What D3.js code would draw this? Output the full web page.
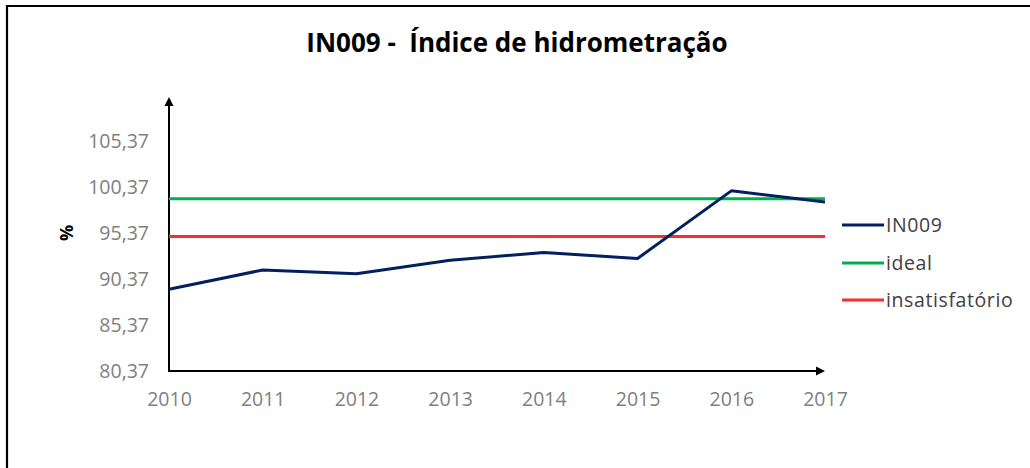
<!DOCTYPE html>
<html><head><meta charset="utf-8">
<script src="https://cdn.jsdelivr.net/npm/d3@7"></script>
<style>
body{margin:0;background:#fff;}
svg{display:block;font-family:"Open Sans",sans-serif;}
</style></head><body>
<svg id="c" width="1030" height="468"></svg>
<script>
const years = [2010, 2011, 2012, 2013, 2014, 2015, 2016, 2017];
const in009 = [89.25, 91.35, 90.95, 92.4, 93.25, 92.6, 99.95, 98.75];
const ideal = [99.1, 99.1, 99.1, 99.1, 99.1, 99.1, 99.1, 99.1];
const insatisfatorio = [95.0, 95.0, 95.0, 95.0, 95.0, 95.0, 95.0, 95.0];
const yTicks = [80.37, 85.37, 90.37, 95.37, 100.37, 105.37];
const seriesNames = ["IN009", "ideal", "insatisfatório"];
const colors = ["#002060", "#00b050", "#ff2a2a"];

const svg = d3.select("#c");
// border (left + top)
svg.append("path").attr("d","M7,468 V6 H1030").attr("fill","none").attr("stroke","#000").attr("stroke-width",2.2);

svg.append("text").attr("x",517).attr("y",52).attr("text-anchor","middle")
  .attr("font-size",26).attr("font-weight","bold").attr("fill","#000")
  .attr("xml:space","preserve").text("IN009 -  Índice de hidrometração");

const x = d3.scalePoint().domain(years).range([169, 825]);
const y = d3.scaleLinear().domain([80.37, 110.37]).range([371, 95]);

// y axis
const yAxis = d3.axisLeft(y).tickValues(yTicks).tickSize(0).tickPadding(20)
  .tickFormat(d => d3.format(".2f")(d).replace(".", ","));
const gy = svg.append("g").attr("transform","translate(169,0)").call(yAxis);
gy.select(".domain").remove();
gy.selectAll("text").attr("font-size",19.5).attr("fill","#7f7f7f").attr("font-family","Open Sans");

// x axis
const xAxis = d3.axisBottom(x).tickSize(0).tickPadding(21).tickFormat(d3.format("d"));
const gx = svg.append("g").attr("transform","translate(0,371)").call(xAxis);
gx.select(".domain").remove();
gx.selectAll("text").attr("font-size",19.5).attr("fill","#7f7f7f").attr("font-family","Open Sans");

// axis lines with arrows
svg.append("line").attr("x1",169).attr("x2",169).attr("y1",371).attr("y2",104).attr("stroke","#000").attr("stroke-width",2);
svg.append("path").attr("d","M169,97 L164.5,106 L173.5,106 Z").attr("fill","#000");
svg.append("line").attr("x1",168).attr("x2",817).attr("y1",371).attr("y2",371).attr("stroke","#000").attr("stroke-width",2);
svg.append("path").attr("d","M825,371 L816,366.5 L816,375.5 Z").attr("fill","#000");

// y title
svg.append("text").attr("transform","translate(73,233) rotate(-90)").attr("text-anchor","middle")
  .attr("font-size",18).attr("font-weight","bold").attr("fill","#000").text("%");

const line = d3.line().x((d,i)=>x(years[i])).y(d=>y(d));
const data = [in009, ideal, insatisfatorio];
[1,2,0].forEach(k=>{
  svg.append("path").datum(data[k]).attr("d",line).attr("fill","none")
    .attr("stroke",colors[k]).attr("stroke-width",3).attr("stroke-linejoin","round");
});

// legend
const legY = [225, 263, 300];
seriesNames.forEach((n,i)=>{
  svg.append("line").attr("x1",842).attr("x2",884).attr("y1",legY[i]).attr("y2",legY[i])
    .attr("stroke",colors[i]).attr("stroke-width",3);
  svg.append("text").attr("x",886).attr("y",legY[i]).attr("dy","0.35em")
    .attr("font-size",19.5).attr("letter-spacing",0.6).attr("fill","#404040").text(n);
});
</script>
</body></html>
